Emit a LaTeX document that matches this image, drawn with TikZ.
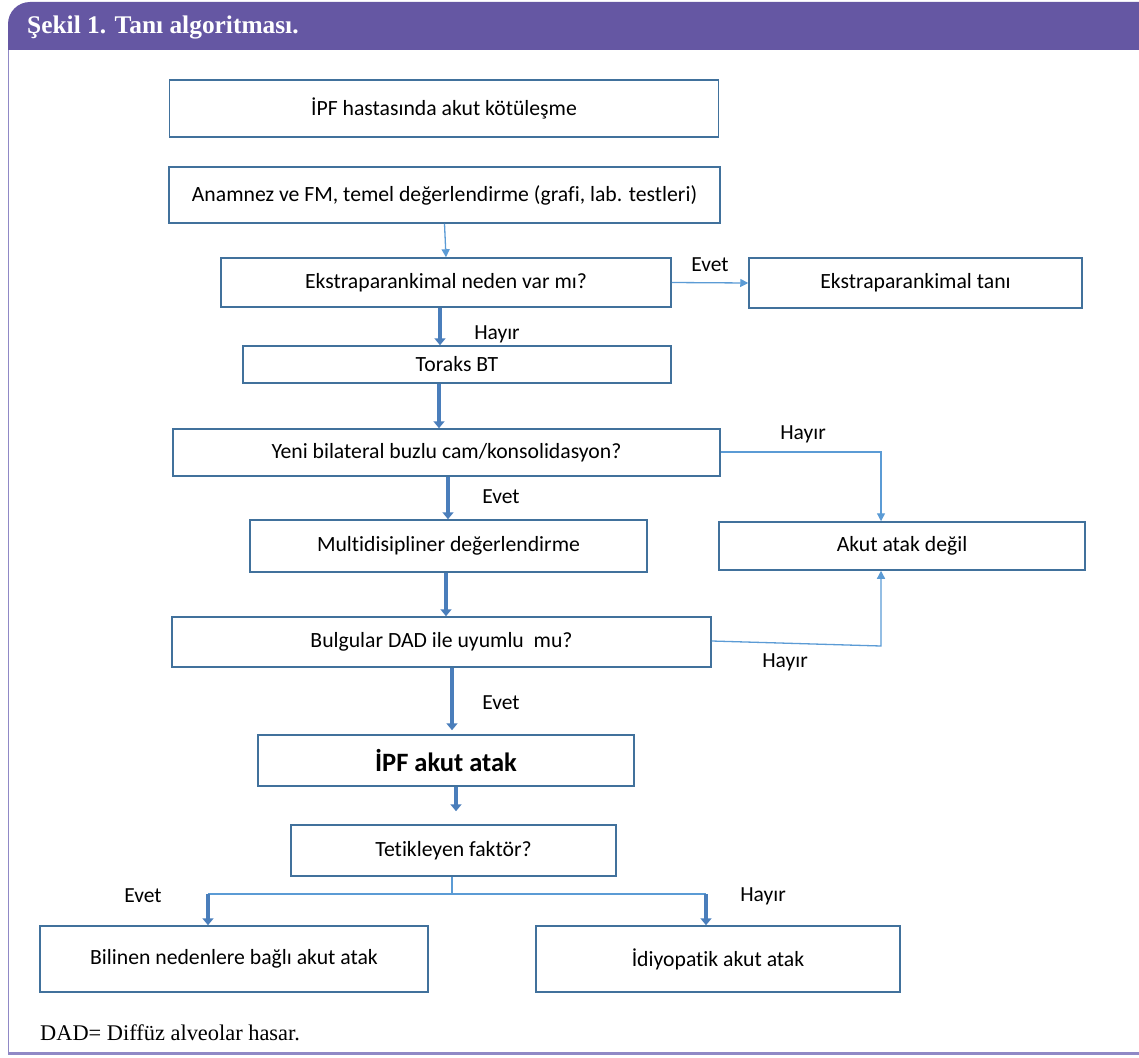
\documentclass[tikz,border=0pt]{standalone}
\usepackage{fontspec}
\setmainfont{Carlito}[Ligatures={NoCommon}]
\newfontfamily\serifttl{Liberation Serif}
\usetikzlibrary{arrows.meta,calc}
\definecolor{hdr}{HTML}{6557A3}
\definecolor{frm}{HTML}{9089C6}
\definecolor{bxc}{HTML}{41719C}
\definecolor{thn}{HTML}{5B9BD5}
\definecolor{thk}{HTML}{4A7EBB}
\tikzset{
  x=1pt,y=-1pt,
  box/.style={draw=bxc,line width=1.5pt,fill=white,inner sep=0pt,font=\fontsize{21.7}{25}\selectfont,text=black},
  lbl/.style={inner sep=0pt,font=\fontsize{21.5}{25}\selectfont,text=black},
  thinarr/.style={draw=thn,line width=1.3pt,-{Triangle[width=8pt,length=8pt]}},
  thinln/.style={draw=thn,line width=1.3pt},
  thickarr/.style={draw=thk,line width=4.5pt,-{Triangle[width=11pt,length=7pt]}},
}
\begin{document}
\begin{tikzpicture}
\useasboundingbox (0,0) rectangle (1139,1057);
% frame
\fill[hdr] (8,50) -- (8,24) arc[start angle=180,end angle=270,radius=22] -- (1139,2) -- (1139,50) -- cycle;
\node[anchor=base west,inner sep=0pt,text=white,font=\serifttl\bfseries\fontsize{25.4}{30}\selectfont] (title) at (27,34) {Şekil 1. Tanı algoritması.};
\draw[frm,line width=1pt] (8,50) -- (8,1053);
\draw[frm,line width=3pt] (8,1053) -- (1139,1053);
\node[anchor=base west,inner sep=0pt,font=\serifttl\fontsize{22.4}{26}\selectfont] (foot) at (40,1040) {DAD= Diffüz alveolar hasar.};
% boxes
\node[box,minimum width=549,minimum height=57] (b1) at (444,108.5) {İPF hastasında akut kötüleşme};
\node[box,minimum width=551,minimum height=56] (b2) at (444.5,195) {Anamnez ve FM, temel değerlendirme (grafi, lab. testleri)};
\node[box,minimum width=450,minimum height=49] (b3) at (446,282.5) {Ekstraparankimal neden var mı?};
\node[box,minimum width=333,minimum height=50] (b4) at (915.5,283) {Ekstraparankimal tanı};
\node[box,minimum width=428,minimum height=37] (b5) at (457,364.5) {Toraks BT};
\node[box,minimum width=547,minimum height=47] (b6) at (446.5,452.5) {Yeni bilateral buzlu cam/konsolidasyon?};
\node[box,minimum width=397,minimum height=52] (b7) at (448.5,546) {Multidisipliner değerlendirme};
\node[box,minimum width=366,minimum height=48] (b8) at (902,546) {Akut atak değil};
\node[box,minimum width=539,minimum height=50] (b9) at (441.5,642) {Bulgular DAD ile uyumlu~ mu?};
\node[box,minimum width=376,minimum height=51,font=\bfseries\fontsize{26.5}{30}\selectfont] (b10) at (446,760.5) {İPF akut atak};
\node[box,minimum width=325,minimum height=51] (b11) at (453.5,850.5) {Tetikleyen faktör?};
\node[box,minimum width=388,minimum height=66] (b12) at (234,959) {Bilinen nedenlere bağlı akut atak};
\node[box,minimum width=364,minimum height=66] (b13) at (718,959) {İdiyopatik akut atak};
% connectors
\draw[thinarr] (b2.south) -- (b3.north);
\draw[thinarr] (b3.east) -- (b4.west);
\node[lbl] (l1) at (710,265) {Evet};
\draw[thickarr] ([xshift=-6]b3.south) -- ([xshift=-6]b3.south |- b5.north);
\node[lbl] (l2) at (497,334) {Hayır};
\draw[thickarr] ([xshift=-18]b5.south) -- ([xshift=-18]b5.south |- b6.north);
\draw[thickarr] ([xshift=1.5]b6.south) -- ([xshift=1.5]b6.south |- b7.north);
\node[lbl] (l3) at (501,497) {Evet};
\draw[thickarr] ([xshift=-2.5]b7.south) -- ([xshift=-2.5]b7.south |- b9.north);
\draw[thickarr,shorten >=4pt] ([xshift=10.5]b9.south) -- ([xshift=10.5]b9.south |- b10.north);
\node[lbl] (l4) at (501,703) {Evet};
\draw[thickarr,shorten >=13pt] ([xshift=10]b10.south) -- ([xshift=10]b10.south |- b11.north);
\coordinate (c1) at (881,452);
\draw[thinarr] (b6.east |- c1) -- (c1) -- (c1 |- b8.north);
\node[lbl] (l5) at (803,434) {Hayır};
\coordinate (c2) at (881,646);
\draw[thinarr] ([yshift=1]b9.east) -- (c2) -- (c2 |- b8.south);
\node[lbl] (l6) at (785,662) {Hayır};
\coordinate (j) at (452,894);
\coordinate (jl) at (208,894);
\coordinate (jr) at (706,894);
\draw[thinln] ([xshift=-1.5]b11.south) -- (j);
\draw[thinln] (jl) -- (jr);
\draw[thickarr] (jl) -- (jl |- b12.north);
\draw[thickarr] (jr) -- (jr |- b13.north);
\node[lbl] (l7) at (143,896) {Evet};
\node[lbl] (l8) at (763,896) {Hayır};
\end{tikzpicture}
\end{document}
